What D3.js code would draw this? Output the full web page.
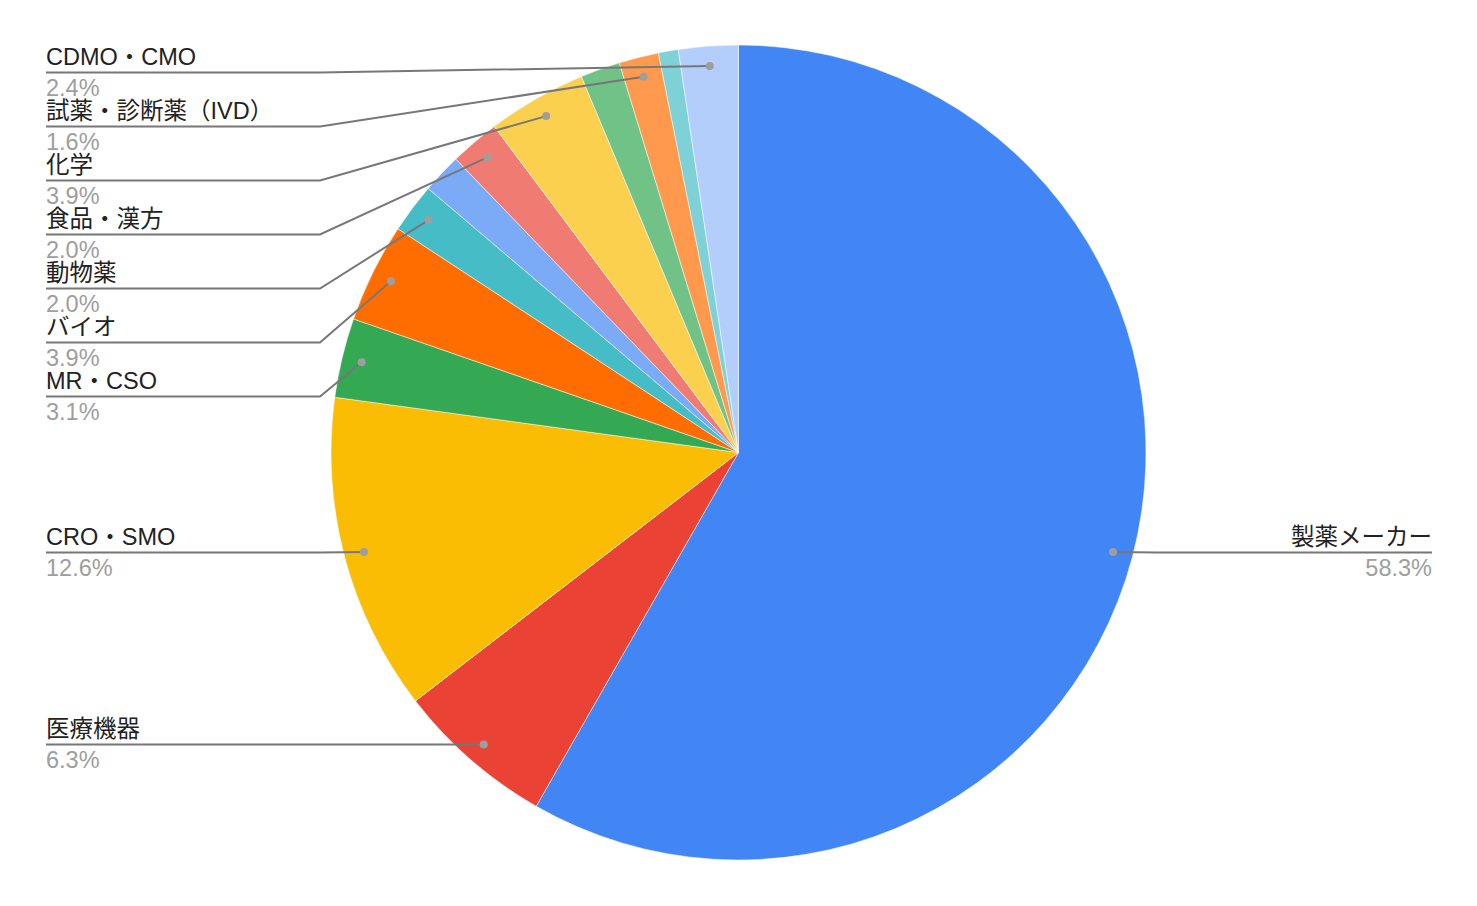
<!DOCTYPE html>
<html>
<head>
<meta charset="utf-8">
<script src="https://cdn.jsdelivr.net/npm/d3@7"></script>
<style>
  html, body { margin: 0; padding: 0; background: #fff; }
  svg { display: block; }
  text { font-family: "Liberation Sans", Arial, "Noto Sans CJK JP", sans-serif; }
</style>
</head>
<body>
<svg id="chart" width="1477" height="906"></svg>
<script>
// Data (counts; percentages are derived from the total)
const categories = ["製薬メーカー", "医療機器", "CRO・SMO", "MR・CSO", "バイオ", "動物薬", null, "食品・漢方", "化学", null, "試薬・診断薬（IVD）", null, "CDMO・CMO"];
const counts = [148, 16, 32, 8, 10, 5, 4, 5, 10, 4, 4, 2, 6];
const colors = ["#4285f4", "#ea4335", "#fbbc04", "#34a853", "#ff6d01", "#46bdc6", "#7baaf7", "#f07b72", "#fcd04f", "#71c287", "#ff994d", "#7ed1d7", "#b3cefb"];

const W = 1477, H = 906;
const cx = 738.5, cy = 452.5, R = 407.5;
const svg = d3.select("#chart");
const total = d3.sum(counts);
const fmt = d3.format(".1%");

const data = counts.map((v, i) => ({ name: categories[i], value: v, color: colors[i] }));
const pie = d3.pie().sort(null).value(d => d.value);
const arcs = pie(data);
const arc = d3.arc().innerRadius(0).outerRadius(R);
const dotArc = d3.arc().innerRadius(R - 20).outerRadius(R - 20);

const g = svg.append("g").attr("transform", `translate(${cx},${cy})`);
g.selectAll("path.slice").data(arcs).join("path")
  .attr("class", "slice")
  .attr("d", arc)
  .attr("fill", d => d.data.color)
  .attr("stroke", "#fff")
  .attr("stroke-width", 0.5);

// Label layout
const labeled = arcs.filter(d => d.data.name).map(d => {
  const c = dotArc.centroid(d);
  return { d, x: cx + c[0], y: cy + c[1], left: c[0] < 0 };
});
const leftL = labeled.filter(l => l.left).sort((a, b) => a.y - b.y);
const rightL = labeled.filter(l => !l.left).sort((a, b) => a.y - b.y);
const gap = 54, minY = 72;
let prev = -Infinity;
leftL.forEach(l => { l.ly = Math.max(l.y, prev + gap, minY); prev = l.ly; });
prev = -Infinity;
rightL.forEach(l => { l.ly = Math.max(l.y, prev + gap, minY); prev = l.ly; });

const lx0 = 46, elbowL = 320, rx0 = 1432, elbowR = W - 320;
const fs = 23.5;
const lg = svg.append("g");
function drawLabel(l, isLeft) {
  const ly = Math.round(l.ly) + 0.5;
  const x0 = isLeft ? lx0 : rx0;
  const ex = isLeft ? elbowL : elbowR;
  lg.append("path")
    .attr("d", `M${x0},${ly}L${ex},${ly}L${l.x},${l.y}`)
    .attr("fill", "none").attr("stroke", "#777").attr("stroke-width", 2);
  lg.append("circle").attr("cx", l.x).attr("cy", l.y).attr("r", 4).attr("fill", "#9e9e9e");
  lg.append("text").attr("x", x0).attr("y", ly - 7.5)
    .attr("text-anchor", isLeft ? "start" : "end")
    .attr("font-size", fs).attr("fill", "#222").text(l.d.data.name);
  lg.append("text").attr("x", x0).attr("y", ly + 23.5)
    .attr("text-anchor", isLeft ? "start" : "end")
    .attr("font-size", fs).attr("fill", "#9e9e9e").text(fmt(l.d.data.value / total));
}
leftL.forEach(l => drawLabel(l, true));
rightL.forEach(l => drawLabel(l, false));
</script>
</body>
</html>
